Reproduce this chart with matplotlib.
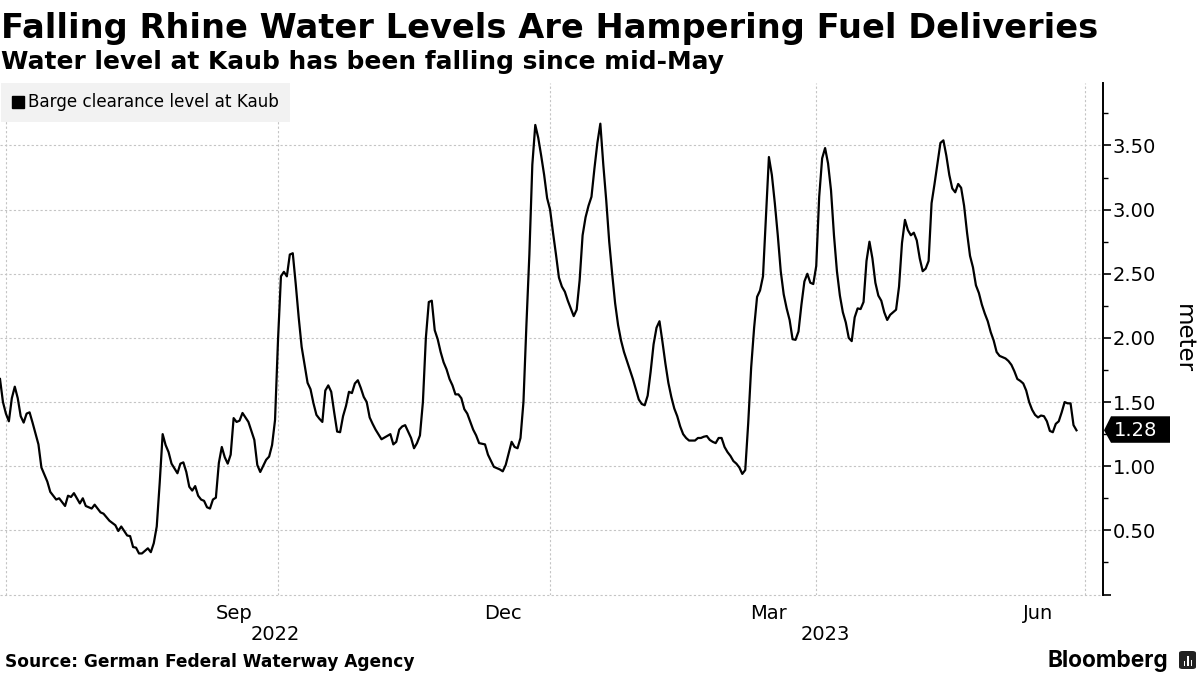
import numpy as np
import pandas as pd
import matplotlib
matplotlib.use('Agg')
import matplotlib.pyplot as plt
import matplotlib.transforms as mtransforms
from matplotlib.lines import Line2D
from matplotlib.patches import Polygon, FancyBboxPatch, Rectangle

# days after the first reading
start_date = '2022-06-29'
days = [0, 1, 2, 3, 4, 5, 6, 7, 8, 9, 10, 11, 13, 14, 16, 17, 19, 20, 21, 22, 23, 24, 25, 27, 28, 29,
        31, 32, 34, 35, 37, 39, 40, 41, 43, 44, 45, 46, 47, 48, 50, 51, 52, 53, 54, 55, 56, 57, 58, 60,
        61, 62, 63, 64, 65, 66, 67, 68, 69, 70, 71, 72, 73, 74, 75, 76, 77, 78, 79, 80, 81, 82, 84, 86,
        87, 88, 90, 91, 92, 93, 94, 95, 96, 97, 98, 99, 100, 101, 102, 104, 105, 106, 107, 108, 109, 110,
        111, 112, 113, 114, 115, 116, 117, 118, 119, 120, 121, 122, 123, 124, 125, 126, 127, 129, 132, 133,
        134, 135, 136, 137, 139, 140, 141, 142, 143, 144, 145, 146, 147, 148, 149, 150, 151, 152, 153, 154,
        155, 156, 157, 158, 160, 161, 162, 164, 165, 167, 168, 169, 170, 171, 173, 174, 175, 176, 177, 178,
        179, 180, 181, 182, 183, 184, 185, 186, 187, 188, 189, 190, 191, 192, 193, 194, 195, 196, 197, 198,
        199, 200, 201, 202, 203, 204, 205, 206, 207, 208, 209, 210, 211, 212, 213, 214, 215, 216, 217, 218,
        219, 220, 221, 222, 223, 224, 225, 226, 227, 228, 229, 230, 231, 232, 233, 235, 236, 237, 238, 239,
        240, 241, 242, 243, 244, 245, 246, 247, 248, 249, 250, 251, 252, 253, 254, 255, 256, 257, 258, 259,
        260, 261, 262, 263, 264, 265, 266, 267, 268, 269, 270, 271, 272, 273, 274, 275, 276, 277, 278, 279,
        280, 281, 282, 283, 284, 285, 286, 287, 288, 289, 290, 291, 292, 293, 294, 295, 296, 297, 298, 299,
        300, 301, 302, 303, 304, 305, 306, 307, 308, 309, 310, 311, 312, 313, 314, 315, 316, 317, 318, 319,
        320, 321, 322, 323, 324, 325, 326, 327, 328, 329, 330, 331, 332, 333, 334, 335, 336, 337, 338, 339,
        340, 341, 342, 343, 344, 345, 346, 347, 348, 349, 350, 351, 352, 353, 354, 355, 356, 357, 358, 359,
        360, 361, 362, 363, 364]
levels = [1.68, 1.50, 1.41, 1.35, 1.53, 1.62, 1.53, 1.39, 1.34, 1.41, 1.42, 1.34, 1.17, 0.99, 0.88, 0.80, 0.74, 0.75,
          0.72, 0.69, 0.77, 0.76, 0.79, 0.71, 0.75, 0.69,
          0.67, 0.70, 0.64, 0.63, 0.575, 0.54, 0.495, 0.53, 0.46, 0.455, 0.37, 0.365, 0.32, 0.32, 0.36, 0.33, 0.40, 0.53,
          0.87, 1.25, 1.165, 1.11, 1.02, 0.945,
          1.02, 1.03, 0.955, 0.84, 0.81, 0.845, 0.77, 0.74, 0.73, 0.68, 0.67, 0.74, 0.755, 1.025, 1.15, 1.07, 1.02, 1.09,
          1.375, 1.345, 1.355, 1.415, 1.345, 1.205,
          1.01, 0.955, 1.05, 1.075, 1.165, 1.36, 1.98, 2.48, 2.515, 2.48, 2.65, 2.66, 2.42, 2.16, 1.93, 1.65, 1.60, 1.49,
          1.40, 1.37, 1.345, 1.59,
          1.63, 1.58, 1.42, 1.27, 1.265, 1.39, 1.47, 1.58, 1.57, 1.645, 1.67, 1.61, 1.54, 1.50, 1.38, 1.33, 1.285, 1.21,
          1.25, 1.17,
          1.19, 1.285, 1.31, 1.32, 1.22, 1.14, 1.18, 1.24, 1.50, 2.00, 2.28, 2.29, 2.06, 1.99, 1.89, 1.81, 1.755, 1.68,
          1.63, 1.56,
          1.56, 1.53, 1.445, 1.41, 1.285, 1.24, 1.18, 1.17, 1.09, 0.995, 0.985, 0.975, 0.96, 1.01, 1.19, 1.15, 1.14, 1.22,
          1.50, 2.10,
          2.65, 3.35, 3.66, 3.56, 3.42, 3.27, 3.09, 3.00, 2.82, 2.65, 2.47, 2.40, 2.36, 2.29, 2.23, 2.17, 2.22, 2.45, 2.80,
          2.94,
          3.03, 3.10, 3.32, 3.52, 3.67, 3.35, 3.07, 2.75, 2.50, 2.27, 2.10, 1.98, 1.89, 1.82, 1.75, 1.68, 1.60, 1.52, 1.485,
          1.475,
          1.55, 1.735, 1.95, 2.08, 2.13, 1.97, 1.80, 1.65, 1.54, 1.45, 1.39, 1.31, 1.25, 1.22, 1.20, 1.20, 1.22, 1.22, 1.23,
          1.235,
          1.205, 1.19, 1.18, 1.22, 1.22, 1.15, 1.11, 1.08, 1.04, 1.02, 0.99, 0.94, 0.97, 1.335, 1.77, 2.08, 2.32, 2.37, 2.48,
          2.94,
          3.41, 3.27, 3.05, 2.80, 2.52, 2.34, 2.23, 2.14, 1.99, 1.985, 2.05, 2.26, 2.44, 2.50, 2.43, 2.42, 2.56, 3.10, 3.40,
          3.48,
          3.36, 3.15, 2.80, 2.52, 2.33, 2.20, 2.12, 2.00, 1.975, 2.16, 2.23, 2.225, 2.28, 2.60, 2.75, 2.62, 2.43, 2.33, 2.29,
          2.20,
          2.14, 2.18, 2.20, 2.22, 2.40, 2.74, 2.92, 2.84, 2.80, 2.82, 2.76, 2.62, 2.52, 2.54, 2.60, 3.05, 3.20, 3.36, 3.52,
          3.54,
          3.42, 3.27, 3.165, 3.135, 3.20, 3.17, 3.03, 2.82, 2.64, 2.55, 2.41, 2.35, 2.26, 2.19, 2.13, 2.045, 1.98, 1.89, 1.86,
          1.85,
          1.84, 1.82, 1.79, 1.74, 1.68, 1.665, 1.645, 1.59, 1.50, 1.44, 1.40, 1.38, 1.395, 1.39, 1.35, 1.275, 1.265, 1.33,
          1.35, 1.42,
          1.50, 1.49, 1.49, 1.32, 1.28]

grid_dates = ['2022-07-01', '2022-10-01', '2023-01-01', '2023-04-01', '2023-07-01']
month_dates = ['2022-09-16', '2022-12-16', '2023-03-16', '2023-06-15']
month_labels = ['Sep', 'Dec', 'Mar', 'Jun']
year_dates = ['2022-09-30', '2023-04-04']
year_labels = ['2022', '2023']
y_major = [0, 0.5, 1.0, 1.5, 2.0, 2.5, 3.0, 3.5]
y_minor = [0.25, 0.75, 1.25, 1.75, 2.25, 2.75, 3.25, 3.75]
y_labels = ['', '0.50', '1.00', '1.50', '2.00', '2.50', '3.00', '3.50']

W, H = 1200, 675
dates = pd.to_datetime(start_date) + pd.to_timedelta(days, unit='D')

fig = plt.figure(figsize=(W / 100, H / 100), dpi=100)
ax = fig.add_axes([0, 1 - 594.5 / H, 1102.5 / W, (594.5 - 83) / H])

ax.plot(dates, levels, color='black', lw=1.6, label='Barge clearance level at Kaub', zorder=3)

ax.set_xlim(pd.to_datetime(start_date), pd.to_datetime(start_date) + pd.Timedelta(days=372.8))
ax.set_ylim(0, 3.987)

for s in ['left', 'top', 'bottom']:
    ax.spines[s].set_visible(False)
ax.spines['right'].set_linewidth(1.4)

ax.yaxis.tick_right()
ax.set_yticks(y_major)
ax.set_yticklabels(y_labels)
ax.set_yticks(y_minor, minor=True)
ax.tick_params(axis='y', which='major', length=6, width=1.2, pad=1.5, labelsize=14)
ax.tick_params(axis='y', which='minor', length=3.5, width=1)

ax.set_xticks(pd.to_datetime(grid_dates))
ax.set_xticklabels([''] * len(grid_dates))
ax.set_xticks(pd.to_datetime(month_dates), minor=True)
ax.set_xticklabels(month_labels, minor=True)
ax.tick_params(axis='x', which='both', length=0, labelsize=14, pad=6.5)

ax.grid(True, which='major', color='#c4c4c4', lw=0.8, ls=(0, (2, 2)))
ax.set_axisbelow(True)
for g in ax.yaxis.get_gridlines():
    g.set_clip_on(False)

for d, lab in zip(year_dates, year_labels):
    ax.text(pd.to_datetime(d), 634, lab, transform=mtransforms.blended_transform_factory(
        ax.transData, mtransforms.Affine2D().scale(1, -1).translate(0, H)),
        ha='center', va='center', fontsize=14)

# legend
handle = Line2D([], [], marker='s', ls='', color='black', ms=8, label='Barge clearance level at Kaub')
leg = ax.legend(handles=[handle], loc='upper left', bbox_to_anchor=(0.001, 1.0), frameon=True, fancybox=False,
                facecolor='#f2f2f2', edgecolor='none', framealpha=1, fontsize=12.1, handlelength=0.8,
                handletextpad=0.2, borderpad=0.62, borderaxespad=0)

# last value callout
last = levels[-1]
tx, ty = ax.get_yaxis_transform().transform((1, last))
offs = mtransforms.Affine2D().translate(tx, ty)
box = [(1.5, 0), (8.5, 14), (67.5, 14), (67.5, -12.5), (8.5, -12.5)]
ax.add_patch(Polygon(box, closed=True, fc='black', ec='none', transform=offs, clip_on=False, zorder=5))
ax.annotate(f'{last:.2f}', xy=(1, last), xycoords=ax.get_yaxis_transform(), xytext=(8.5, -0.5),
            textcoords='offset points', color='white', fontsize=14, va='center', ha='left', zorder=6,
            annotation_clip=False)

# titles
fig.text(1 / W, 1 - 38 / H, 'Falling Rhine Water Levels Are Hampering Fuel Deliveries', fontsize=24.2,
         fontweight='bold', va='baseline')
fig.text(1 / W, 1 - 69 / H, 'Water level at Kaub has been falling since mid-May', fontsize=17.9,
         fontweight='bold', va='baseline')
fig.text(1183 / W, 1 - 339 / H, 'meter', rotation=-90, fontsize=16.5, ha='center', va='center')
fig.text(5 / W, 1 - 667 / H, 'Source: German Federal Waterway Agency', fontsize=12.25, fontweight='bold', va='baseline')
fig.text(1168 / W, 1 - 667 / H, 'Bloomberg', fontsize=16.3, fontweight='bold', family='Inter', ha='right', va='baseline')

# logo
fig.add_artist(FancyBboxPatch((1179 / W, 1 - 669 / H), 17 / W, 18 / H, boxstyle='round,pad=0,rounding_size=0.003',
                              fc='#222222', ec='none', transform=fig.transFigure))
for bx, bh in zip([1183.5, 1187, 1190.5], [5, 10, 6]):
    fig.add_artist(Rectangle((bx / W, 1 - 666 / H), 1.5 / W, bh / H, fc='white', ec='none', transform=fig.transFigure))

fig.savefig('out.png', dpi=100)
